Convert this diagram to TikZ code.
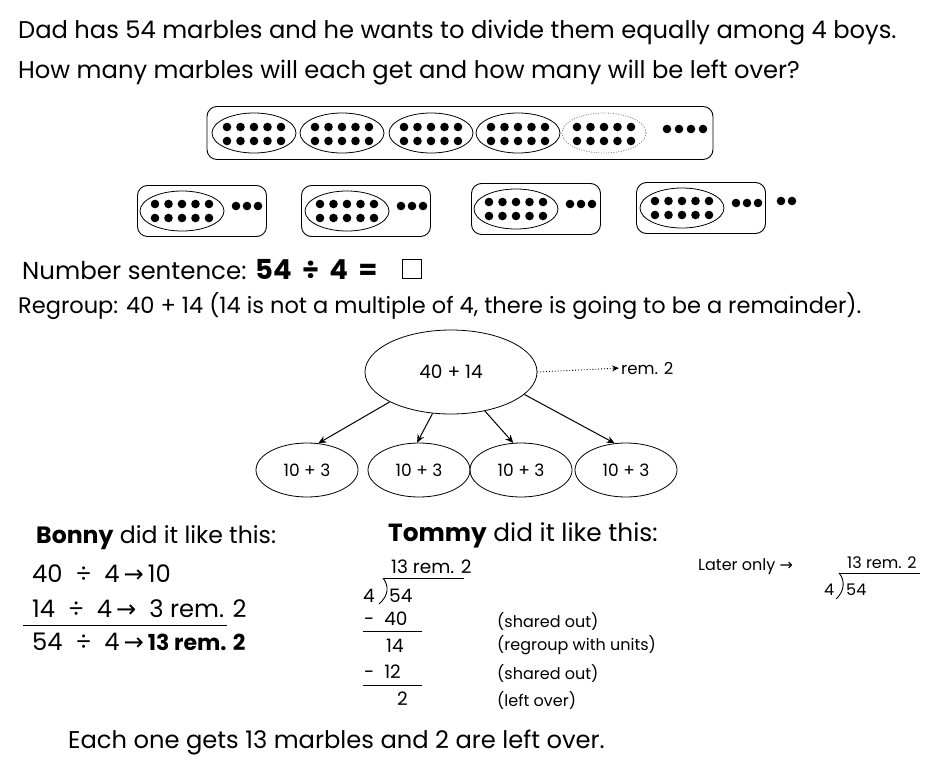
\documentclass[tikz,border=0pt]{standalone}
\usepackage{fontspec}
\setmainfont{Poppins}
\newfontfamily\symfont{DejaVu Sans}
\usetikzlibrary{arrows.meta,shapes.geometric}

\newcommand{\arr}{{\symfont →}}
\newcommand{\tendots}[2]{%
  \foreach \i in {0,...,4}{\foreach \j in {0,1}{%
    \fill (#1-27+13.5*\i, #2-7+14*\j) circle[radius=4.3pt];}}}

\begin{document}
\begin{tikzpicture}[x=1pt,y=-1pt]
\tikzset{
  big/.style = {anchor=base west, inner sep=0pt, font=\fontsize{24.2}{27}\selectfont},
  mid/.style = {anchor=base west, inner sep=0pt, font=\fontsize{18.5}{21}\selectfont},
  sml/.style = {anchor=base west, inner sep=0pt, font=\fontsize{16}{19}\selectfont},
  box/.style = {draw, rounded corners=10pt, line width=0.9pt, inner sep=0pt},
  grp/.style = {draw, ellipse, line width=0.8pt, minimum width=84pt,
                minimum height=40pt, inner sep=0pt},
  part/.style = {draw, ellipse, line width=0.8pt, minimum width=102pt,
                 minimum height=54pt, font=\fontsize{17}{20}\selectfont},
  pil/.style = {-{Stealth[length=8pt,width=7pt]}, line width=1pt},
}
\useasboundingbox (0,0) rectangle (932,763);

% the question
\node[big] (q1) at (18,38) {Dad has 54 marbles and he wants to divide them equally among 4 boys.};
\node[big] (q2) at (18,78) {How many marbles will each get and how many will be left over?};

% 54 marbles in groups of ten
\node[box, minimum width=506pt, minimum height=53pt] (row) at (460,133) {};
\foreach \x/\n in {254/g1, 342/g2, 431/g3, 518/g4}{
  \node[grp] (\n) at (\x,133) {};
  \tendots{\x}{134}
}
\node[grp, draw=gray, dash pattern=on 1pt off 1.5pt] (g5) at (604,133) {};
\tendots{604}{134}
\foreach \x in {667,679,691,703}
  \fill (\x,129) circle[radius=4.3pt];

% shared among 4 boys
\foreach \bx/\ex/\y/\n in {202/182/211/1, 366/347/211/2, 536/516/209/3, 701/682/208/4}{
  \node[box, minimum width=129pt, minimum height=51pt] (boy\n) at (\bx,\y) {};
  \node[grp] (ten\n) at (\ex,\y) {};
  \tendots{\ex}{\y}
  \foreach \k in {0,1,2}
    \fill (\ex+54+11*\k, \y-5) circle[radius=4.3pt];
}
\fill (781,201) circle[radius=4.3pt];
\fill (792,201) circle[radius=4.3pt];

% number sentence
\node[big, font=\fontsize{24.5}{27}\selectfont] (ns) at (22,279) {Number sentence:};
\node[anchor=base west, inner sep=0pt, font=\bfseries\fontsize{27.5}{30}\selectfont] (nsb) at (255,279) {54\ \,÷\ \,4\ \,=};
\node[draw, line width=1pt, minimum size=19pt, inner sep=0pt] (sq) at (412,268.5) {};
\node[big, font=\fontsize{22.5}{26}\selectfont] (rg) at (18,313) {Regroup: 40 + 14 (14 is not a multiple of 4, there is going to be a remainder).};

% split into 4 parts
\node[draw, ellipse, line width=0.8pt, minimum width=172pt, minimum height=84pt,
      font=\fontsize{18.5}{21}\selectfont] (whole) at (451,372) {40 + 14};
\node[part] (p1) at (307,470) {10 + 3};
\node[part] (p2) at (419,470) {10 + 3};
\node[part] (p3) at (521,470) {10 + 3};
\node[part] (p4) at (626,470) {10 + 3};
\node[anchor=west, inner sep=0pt, font=\fontsize{16.5}{19}\selectfont] (rem) at (621,368) {rem. 2};

\draw[pil] (whole.206) -- (p1.67);
\draw[pil] (whole.246) -- (p2.94);
\draw[pil] (whole.311) -- (p3.106);
\draw[pil] (whole.343) -- (p4.113);
\draw[dotted, line width=0.9pt, -{Stealth[length=7pt,width=6pt]}, shorten >=2pt] (whole.east) -- (rem.west);

% Bonny
\node[big, font=\fontsize{23.6}{27}\selectfont] (bonny) at (36,543) {\textbf{Bonny} did it like this:};
\node[big] (bn1) at (32,582) {40\ \ ÷\ \ 4\,\arr\,10};
\node[big] (bn2) at (32,617) {14\ \ ÷\ \ 4\,\arr\ \ 3 rem. 2};
\draw[line width=0.9pt] (23,625) -- (227,625);
\node[big] (bn3) at (32,650) {54\ \ ÷\ \ 4\,\arr\,{\bfseries\fontsize{22}{26}\selectfont 13 rem. 2}};

% Tommy
\node[big, font=\fontsize{24.8}{28}\selectfont] (tommy) at (388,541) {\textbf{Tommy} did it like this:};
\node[mid] (tq) at (391,573) {13 rem. 2};
\draw[line width=0.9pt] (384,578) -- (464,578);
\node[mid] (td) at (363,602) {4};
\draw[line width=0.9pt] (383,578) .. controls (389,586) and (389,595) .. (379,604);
\node[mid] (tn) at (389,602) {54};
\node[mid] (t40) at (364,625) {-\ \ 40};
\draw[line width=0.9pt] (363,631) -- (422,631);
\node[mid] (t14) at (386,652) {14};
\node[mid] (t12) at (364,678) {-\ \ 12};
\draw[line width=0.9pt] (363,685) -- (422,685);
\node[mid] (t2) at (397,705) {2};
\node[sml] (c1) at (497,627) {(shared out)};
\node[sml] (c2) at (497,650) {(regroup with units)};
\node[sml] (c3) at (497,679) {(shared out)};
\node[sml] (c4) at (497,706) {(left over)};

% later only
\node[sml] (later) at (698,570) {Later only \arr};
\node[sml] (lq) at (847,568) {13 rem. 2};
\draw[line width=0.9pt] (839,573) -- (920,573);
\node[sml] (ld) at (824,595) {4};
\draw[line width=0.9pt] (839,573) .. controls (845,580) and (845,591) .. (836,599);
\node[sml] (ln) at (846,595) {54};

% answer
\node[big] (ans) at (68,748) {Each one gets 13 marbles and 2 are left over.};
\end{tikzpicture}
\end{document}
